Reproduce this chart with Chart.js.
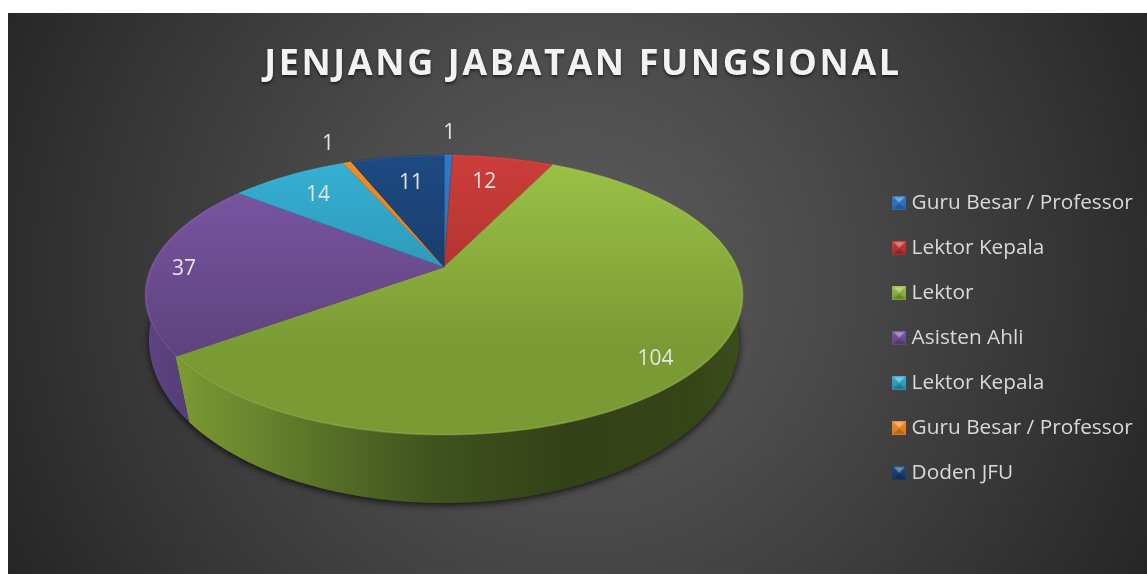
<!DOCTYPE html>
<html><head><meta charset="utf-8">
<style>
html,body{margin:0;padding:0;background:#fff;width:1147px;height:574px;overflow:hidden}
#wrap{position:absolute;left:8px;top:13px;width:1139px;height:561px;
background:radial-gradient(circle 640px at 572px 262px,#5c5c5c 0%,#4c4c4c 35%,#383838 70%,#262626 100%)}
canvas{display:block}
</style>
<script src="https://cdn.jsdelivr.net/npm/chart.js@4"></script>
</head><body><div id="wrap"><canvas id="c" width="1139" height="561"></canvas></div>
<script>
const categories=["Guru Besar / Professor","Lektor Kepala","Lektor","Asisten Ahli","Lektor Kepala","Guru Besar / Professor","Doden JFU"];
const values=[1,12,104,37,14,1,11];
const titleText="JENJANG JABATAN FUNGSIONAL";
const faceTop=["#2f78c8","#cc3d3a","#9cc247","#7f58a8","#35b1d4","#f28c24","#1d4a82"];
const faceBottom=["#2a68ad","#a32e29","#7a9a34","#5f437f","#2a8aa8","#d87a1c","#17365f"];
const wallStops=[["#1f4f85","#1f4f85"],["#7a2320","#7a2320"],["#7d9c36","#33421a"],["#5e4484","#4a3568"],["#1f6f88","#1f6f88"],["#a8601a","#a8601a"],["#12294a","#12294a"]];
const labelRadius=[1.27,0.76,0.87,0.887,0.785,1.244,0.745];
const labelTurn=[0,-2,3,-1.2,0,0,1];

// perspective of the tilted disc (top rim and bottom rim)
const persp=0.2, spreadX=293, spreadY=134.4, apexX=436, apexY=254, R=100;
const lowPersp=0.12, lowSpreadX=292.9, lowSpreadY=160.7, lowDrop=53.4;
function proj(cx,cy,a,r){
  const u=Math.cos(a)*r, v=-Math.sin(a)*r, w=1+persp*v;
  return [cx+spreadX*u/w, cy-spreadY*v/w];
}
function low(cx,cy,a){
  const u=Math.cos(a), v=-Math.sin(a), w=1+lowPersp*v;
  return [cx+lowSpreadX*u/w, cy+lowDrop-lowSpreadY*v/w];
}
function angles(s,e){const n=Math.max(2,Math.ceil((e-s)/0.006)),o=[];for(let i=0;i<=n;i++)o.push(s+(e-s)*i/n);return o;}

const Arc=Chart.registry.getElement('arc');
Arc.prototype.draw=function(ctx){
  const p=this.getProps(['x','y','startAngle','endAngle']);
  const i=this.$context?this.$context.index:0;
  const g=ctx.createLinearGradient(0,142,0,335);
  g.addColorStop(0,faceTop[i]);g.addColorStop(1,faceBottom[i]);
  ctx.save();
  ctx.beginPath();ctx.moveTo(p.x,p.y);
  const as=angles(p.startAngle,p.endAngle);
  as.forEach(a=>{const q=proj(p.x,p.y,a,1);ctx.lineTo(q[0],q[1]);});
  ctx.closePath();ctx.fillStyle=g;ctx.fill();
  ctx.lineWidth=0.6;ctx.strokeStyle=faceBottom[i];ctx.stroke();
  // bevel highlight on the rim
  ctx.beginPath();as.forEach((a,k)=>{const q=proj(p.x,p.y,a,0.996);k?ctx.lineTo(q[0],q[1]):ctx.moveTo(q[0],q[1]);});
  ctx.lineWidth=1.4;ctx.strokeStyle='rgba(255,255,255,0.08)';ctx.stroke();
  ctx.restore();
};

function bevel(top,bottom){
  const c=document.createElement('canvas');c.width=14;c.height=14;const x=c.getContext('2d');
  const g=x.createLinearGradient(0,0,0,14);g.addColorStop(0,top);g.addColorStop(1,bottom);
  x.fillStyle=g;x.fillRect(0,0,14,14);
  x.fillStyle='rgba(255,255,255,0.38)';x.beginPath();x.moveTo(1.5,1.5);x.lineTo(12.5,1.5);x.lineTo(7,7);x.fill();
  x.fillStyle='rgba(0,0,0,0.18)';x.beginPath();x.moveTo(1,13);x.lineTo(13,13);x.lineTo(7,8);x.fill();
  return c;
}
const legendIcons=faceTop.map((c,i)=>bevel(c,faceBottom[i]));

const tilt={
  id:'tilt',
  afterLayout(ch){
    const a=ch.chartArea;
    a.left=apexX-R;a.right=apexX+R;a.top=apexY-R;a.bottom=apexY+R;a.width=2*R;a.height=2*R;
    const l=ch.legend;l.left=865;l.right=1139;l.top=155;l.bottom=561;l.width=274;l.height=406;
  },
  beforeDraw(ch){
    const t=ch.titleBlock;
    if(!t._patched){t._patched=true;const d=t.draw;
      t.draw=function(){const c=ch.ctx;c.save();c.letterSpacing='2.6px';c.shadowColor='rgba(0,0,0,0.55)';c.shadowBlur=3;c.shadowOffsetY=2;d.call(t);c.restore();};}
  },
  beforeDatasetsDraw(ch){
    const c=ch.ctx,m=ch.getDatasetMeta(0),x=m.data[0].x,y=m.data[0].y;
    c.save();
    // soft shadow of the whole disc
    c.beginPath();angles(0,Math.PI*2).forEach((a,k)=>{const q=low(x,y,a);k?c.lineTo(q[0],q[1]):c.moveTo(q[0],q[1]);});c.closePath();
    c.shadowColor='rgba(0,0,0,0.75)';c.shadowBlur=7;c.shadowOffsetY=2;c.fillStyle='#2b2b2b';c.fill();
    c.shadowColor='transparent';
    m.data.forEach((e,i)=>{
      const as=angles(e.startAngle,e.endAngle),pts=[];
      as.forEach(a=>pts.push(proj(x,y,a,1)));
      as.slice().reverse().forEach(a=>pts.push(low(x,y,a)));
      const xs=pts.map(p=>p[0]);
      if(i===2){
        const lx=proj(x,y,e.endAngle,1)[0],hx=proj(x,y,Math.PI*0.02,1)[0];
        const gg=c.createLinearGradient(lx,0,hx,0);
        gg.addColorStop(0,'#7d9c36');gg.addColorStop(0.05,'#749230');gg.addColorStop(0.14,'#6a862e');gg.addColorStop(0.27,'#566f28');gg.addColorStop(0.45,'#40531e');gg.addColorStop(0.57,'#3a4a1b');gg.addColorStop(0.7,'#334118');gg.addColorStop(0.92,'#364518');gg.addColorStop(1,'#3c4d1c');
        c.fillStyle=gg;
      }else{
        const g=c.createLinearGradient(Math.min(...xs),0,Math.max(...xs),0);
        g.addColorStop(0,wallStops[i][0]);g.addColorStop(1,wallStops[i][1]);c.fillStyle=g;
      }
      c.beginPath();pts.forEach((p,k)=>k?c.lineTo(p[0],p[1]):c.moveTo(p[0],p[1]));c.closePath();c.fill();
    });
    c.restore();
  },
  afterDatasetsDraw(ch){
    const c=ch.ctx,m=ch.getDatasetMeta(0);
    c.save();c.font='21px "Open Sans"';c.fillStyle='#e4e4e4';c.textAlign='center';c.textBaseline='middle';
    m.data.forEach((e,i)=>{
      const mid=(e.startAngle+e.endAngle)/2+labelTurn[i]*Math.PI/180;
      const q=proj(e.x,e.y,mid,labelRadius[i]);
      c.fillText(String(values[i]),q[0],q[1]+2);
    });
    c.restore();
  }
};

new Chart(document.getElementById('c'),{
  type:'pie',
  data:{labels:categories,datasets:[{data:values,backgroundColor:faceTop,borderWidth:0,clip:false}]},
  plugins:[tilt],
  options:{
    responsive:false,animation:false,
    layout:{padding:{left:11,right:0,top:0,bottom:0}},
    events:[],
    plugins:{
      tooltip:{enabled:false},
      title:{display:true,text:titleText,color:'#f2f2f2',align:'center',
        font:{family:'"Open Sans"',size:36,weight:'bold'},padding:{top:30,bottom:10}},
      legend:{display:true,position:'right',align:'start',
        labels:{color:'#d9d9d9',font:{family:'"Open Sans"',size:20.8},padding:24.2,boxWidth:4,boxHeight:4,usePointStyle:true,
          generateLabels:ch=>ch.data.labels.map((t,i)=>({text:t,fontColor:'#d9d9d9',fillStyle:faceTop[i],strokeStyle:faceTop[i],lineWidth:0,pointStyle:legendIcons[i],hidden:false,index:i}))}}
    }
  }
});
</script></body></html>
